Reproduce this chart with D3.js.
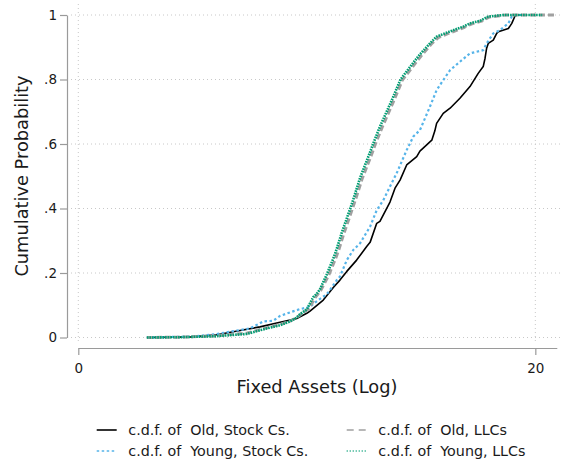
<!DOCTYPE html>
<html><head><meta charset="utf-8">
<script src="https://cdn.jsdelivr.net/npm/d3@7"></script>
<style>body{margin:0;background:#fff}svg{display:block}text{font-family:"DejaVu Sans",Verdana,sans-serif;fill:#1a1a1a;white-space:pre}</style>
</head><body>
<script>
// ---- data ----
const oldStockX = [3.0,5.0,6.0,6.78,7.95,8.83,9.27,9.56,10.0,10.14,10.72,11.16,11.45,11.75,12.18,12.62,12.77,13.06,13.2,13.64,13.86,14.08,14.37,14.81,14.95,15.47,15.6,15.68,15.97,16.27,16.7,17.14,17.5,17.72,17.8,17.87,17.94,18.16,18.31,18.38,18.82,18.97,19.11,19.2,19.5];
const oldStockP = [0,0.002,0.008,0.018,0.033,0.047,0.054,0.059,0.075,0.082,0.116,0.155,0.178,0.205,0.24,0.282,0.295,0.354,0.36,0.42,0.463,0.488,0.535,0.561,0.578,0.612,0.64,0.664,0.695,0.711,0.742,0.778,0.819,0.84,0.866,0.897,0.912,0.922,0.943,0.948,0.958,0.974,0.997,1.0,1.0];
const youngStockX = [3.0,5.0,6.0,6.64,7.51,8.1,8.53,8.83,9.27,9.7,10.14,10.28,10.58,10.87,11.01,11.31,11.45,11.75,12.04,12.33,12.77,13.06,13.2,13.35,13.64,13.93,14.37,14.66,14.95,15.39,15.68,15.97,16.27,16.7,17.14,17.72,17.87,18.02,18.16,18.45,18.82,18.97,19.11,19.4];
const youngStockP = [0,0.003,0.01,0.018,0.028,0.05,0.052,0.067,0.078,0.088,0.095,0.104,0.12,0.134,0.147,0.178,0.189,0.24,0.272,0.292,0.344,0.395,0.41,0.426,0.468,0.509,0.581,0.623,0.643,0.716,0.767,0.798,0.829,0.855,0.881,0.891,0.912,0.928,0.943,0.953,0.974,0.995,1.0,1.0];
const oldLlcX = [3.0,4.5,6.0,6.78,7.4,8.24,8.9,9.3,9.6,9.8,10.1,10.35,10.6,10.95,11.25,11.4,11.62,11.98,12.12,12.42,12.86,13.0,13.3,13.8,14.18,14.72,15.0,15.45,15.75,16.2,16.5,16.9,17.2,17.65,18.0,18.7,20.94];
const oldLlcP = [0,0.001,0.005,0.01,0.014,0.03,0.042,0.052,0.064,0.075,0.09,0.122,0.145,0.192,0.243,0.272,0.322,0.396,0.425,0.492,0.572,0.6,0.652,0.733,0.798,0.848,0.873,0.91,0.93,0.943,0.951,0.962,0.972,0.981,0.994,1.0,1.0];
const youngLlcX = [3.0,4.5,6.0,6.78,7.37,8.24,8.83,9.27,9.56,9.7,10.0,10.28,10.43,10.58,10.87,11.16,11.31,11.53,11.89,12.03,12.33,12.77,12.91,13.2,13.72,14.1,14.66,14.95,15.39,15.68,16.12,16.41,16.85,17.14,17.58,17.94,18.6,20.3];
const youngLlcP = [0,0.001,0.004,0.008,0.011,0.028,0.038,0.05,0.062,0.072,0.087,0.125,0.135,0.15,0.195,0.245,0.275,0.325,0.398,0.427,0.495,0.575,0.602,0.654,0.736,0.8,0.852,0.878,0.912,0.933,0.945,0.953,0.964,0.974,0.982,0.995,1.0,1.0];
const seriesNames = ["c.d.f. of  Old, Stock Cs.","c.d.f. of  Young, Stock Cs.","c.d.f. of  Old, LLCs","c.d.f. of  Young, LLCs"];
const yTicks = [0,0.2,0.4,0.6,0.8,1];
const yTickLabels = ["0",".2",".4",".6",".8","1"];
const xTicks = [0,20];
const xTitle = "Fixed Assets (Log)";
const yTitle = "Cumulative Probability";

// ---- chart ----
const W=565,H=459;
const svg=d3.select("body").append("svg").attr("width",W).attr("height",H);
const x=d3.scaleLinear().domain([0,20.94]).range([78.3,556.8]);
const y=d3.scaleLinear().domain([0,1]).range([337.5,15]);

const series=[
 {x:oldStockX,p:oldStockP,color:"#000000",w:1.6,dash:null,ldash:null},
 {x:youngStockX,p:youngStockP,color:"#56B4E9",w:2.2,dash:"2.5,2.5",ldash:"2.5,2.5"},
 {x:oldLlcX,p:oldLlcP,color:"#a0a0a0",w:3,dash:"6,3",ldash:"7,5"},
 {x:youngLlcX,p:youngLlcP,color:"#009E73",w:2.6,dash:"1.6,1",ldash:"1,2"}
];

// grid
const grid=svg.append("g").attr("stroke","#c8c8c8").attr("stroke-width",1).attr("stroke-dasharray","1,3");
yTicks.forEach(t=>grid.append("line").attr("x1",71).attr("x2",562).attr("y1",y(t)).attr("y2",y(t)));
xTicks.forEach(t=>grid.append("line").attr("x1",x(t)).attr("x2",x(t)).attr("y1",4).attr("y2",344));

// y axis
const yAxis=svg.append("g").attr("transform","translate(67,0)")
 .call(d3.axisLeft(y).tickValues(yTicks).tickFormat((d,i)=>yTickLabels[i]).tickSize(7).tickSizeOuter(0));
// x axis
const xAxis=svg.append("g").attr("transform","translate(0,348)")
 .call(d3.axisBottom(x).tickValues(xTicks).tickFormat(d3.format("d")).tickSize(7).tickSizeOuter(0));
[yAxis,xAxis].forEach(a=>{
 a.selectAll("path,line").attr("stroke","#9a9a9a").attr("stroke-width",1.2);
 a.selectAll("text").attr("font-size",13.5).attr("font-family","DejaVu Sans").attr("fill","#1a1a1a");
});
yAxis.selectAll("text").attr("x",-10);
xAxis.selectAll("text").attr("y",15);

// titles
svg.append("text").attr("x",317).attr("y",393).attr("text-anchor","middle").attr("font-size",17.8).text(xTitle);
svg.append("text").attr("transform","translate(28,176) rotate(-90)").attr("text-anchor","middle").attr("font-size",17.8).text(yTitle);

// lines
const line=d3.line().x(d=>x(d[0])).y(d=>y(d[1]));
series.forEach(s=>{
 const pts=s.x.map((v,i)=>[v,s.p[i]]);
 svg.append("path").datum(pts).attr("d",line).attr("fill","none")
  .attr("stroke",s.color).attr("stroke-width",s.w).attr("stroke-dasharray",s.dash).attr("stroke-linejoin","round");
});

// legend
const legPos=[[96.7,430],[96.7,451],[346.7,430],[346.7,451]];
[0,1,2,3].forEach(i=>{
 const s=series[i],[lx,ly]=legPos[i];
 svg.append("line").attr("x1",lx).attr("x2",lx+20).attr("y1",ly).attr("y2",ly)
  .attr("stroke",s.color).attr("stroke-width",1.6).attr("stroke-dasharray",s.ldash);
 svg.append("text").attr("x",lx+31.6).attr("y",ly+5).attr("font-size",14.3).text(seriesNames[i]);
});
</script>
</body></html>
